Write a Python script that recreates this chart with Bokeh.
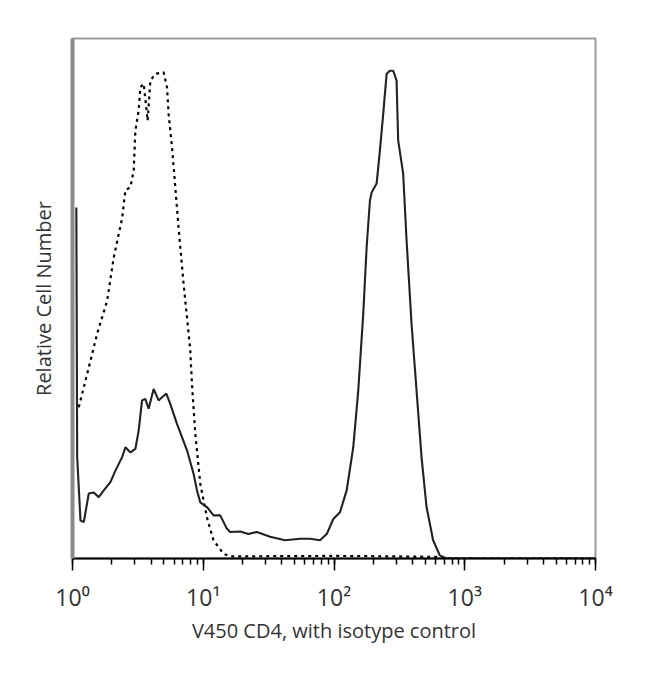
from bokeh.plotting import figure
from bokeh.models import Range1d, FixedTicker, LogTicker
from bokeh.embed import file_html
from bokeh.resources import INLINE

# Stained sample (V450 CD4), solid line
cd4_x = [1.07, 1.086, 1.151, 1.22, 1.332, 1.454, 1.588, 1.734, 1.95, 2.129, 2.396, 2.539,
         2.772, 3.027, 3.207, 3.404, 3.608, 3.823, 4.174, 4.558, 4.838, 5.221, 5.6, 6.299,
         7.508, 8.433, 8.952, 9.486, 10.67, 11.98, 13.49, 15.17, 16.07, 19.16, 22.17, 25.7,
         32.47, 42.27, 55.02, 65.59, 78.18, 87.99, 98.79, 111.1, 125.0, 140.4, 153.3, 167.4,
         177.7, 188.3, 194.0, 211.8, 224.5, 237.9, 252.6, 267.6, 283.7, 301.0, 309.6, 338.1,
         358.9, 391.9, 427.9, 467.2, 510.2, 572.9, 644.5, 724.9, 10000]
cd4_y = [67.5, 19.5, 7.3, 7.0, 12.5, 12.7, 11.8, 13.1, 14.7, 16.9, 19.5, 21.4,
         20.4, 21.1, 24.6, 30.4, 30.7, 28.8, 32.6, 30.4, 31.0, 31.7, 29.7, 25.9,
         20.8, 16.3, 13.1, 10.8, 9.9, 8.3, 8.3, 5.7, 5.1, 5.2, 4.7, 5.1,
         4.2, 3.5, 3.8, 3.8, 3.5, 4.7, 7.6, 8.9, 13.1, 21.4, 32.3, 47.1,
         59.9, 68.8, 70.4, 72.1, 78.5, 85.5, 93.2, 93.8, 93.8, 91.9, 80.4, 74.0,
         61.2, 45.1, 32.3, 19.5, 9.9, 3.5, 0.6, 0.0, 0.0]

# Isotype control, dashed line
iso_x = [1.117, 1.295, 1.543, 1.841, 2.067, 2.396, 2.539, 2.772, 2.938, 3.027, 3.207, 3.304,
         3.502, 3.757, 3.939, 4.301, 4.977, 5.284, 5.434, 5.768, 6.113, 6.479, 7.072, 7.508,
         7.957, 8.197, 8.689, 9.486, 10.67, 11.98, 14.29, 16.07, 100, 300, 650, 700, 10000]
iso_y = [29.1, 35.5, 43.2, 49.6, 57.9, 65.4, 70.8, 71.4, 74.6, 82.3, 86.2, 90.6,
         91.3, 84.2, 91.9, 93.2, 93.5, 90.6, 85.5, 79.1, 71.4, 63.5, 52.8, 46.4,
         40.0, 33.6, 24.0, 14.4, 7.9, 3.5, 0.9, 0.4, 0.5, 0.4, 0.3, 0.0, 0.0]

x_ticks = [1, 10, 100, 1000, 10000]
x_tick_labels = ["10\u2070", "10\u00b9", "10\u00b2", "10\u00b3", "10\u2074"]

FONT = "Open Sans"

p = figure(width=625, height=648, x_axis_type="log",
           x_range=Range1d(1, 10000), y_range=Range1d(0, 100),
           output_backend="svg", toolbar_location=None,
           min_border_left=72, min_border_top=38, min_border_right=30, min_border_bottom=90)

p.line(iso_x, iso_y, line_color="black", line_width=2.2, line_dash="3 4")
p.line(cd4_x, cd4_y, line_color="#222222", line_width=2.1)

p.grid.visible = False
p.background_fill_color = "white"
p.border_fill_color = "white"
p.outline_line_color = "#9a9a9a"
p.outline_line_width = 2

xa = p.xaxis[0]
xa.ticker = LogTicker(num_minor_ticks=10, desired_num_ticks=5)
xa.major_label_overrides = {t: l for t, l in zip(x_ticks, x_tick_labels)}
xa.axis_label = "V450 CD4, with isotype control"
xa.axis_label_text_font = FONT
xa.axis_label_text_font_style = "normal"
xa.axis_label_text_font_size = "20px"
xa.axis_label_text_color = "#333333"
xa.axis_label_standoff = 1
xa.major_label_text_font = FONT
xa.major_label_text_font_size = "23px"
xa.major_label_text_color = "#333333"
xa.major_label_standoff = 10
xa.axis_line_color = "black"
xa.axis_line_width = 2
xa.major_tick_in = 0
xa.major_tick_out = 12
xa.minor_tick_in = 0
xa.minor_tick_out = 6
xa.major_tick_line_width = 1.5
xa.minor_tick_line_width = 1.5
xa.major_tick_line_color = "black"
xa.minor_tick_line_color = "black"

ya = p.yaxis[0]
ya.ticker = FixedTicker(ticks=[])
ya.axis_label = "Relative Cell Number"
ya.axis_label_text_font = FONT
ya.axis_label_text_font_style = "normal"
ya.axis_label_text_font_size = "20px"
ya.axis_label_text_color = "#333333"
ya.axis_label_standoff = 16
ya.axis_line_color = "#8a8a8a"
ya.axis_line_width = 4
ya.major_tick_out = 0
ya.minor_tick_out = 0

open("out.html", "w").write(file_html(p, INLINE))
